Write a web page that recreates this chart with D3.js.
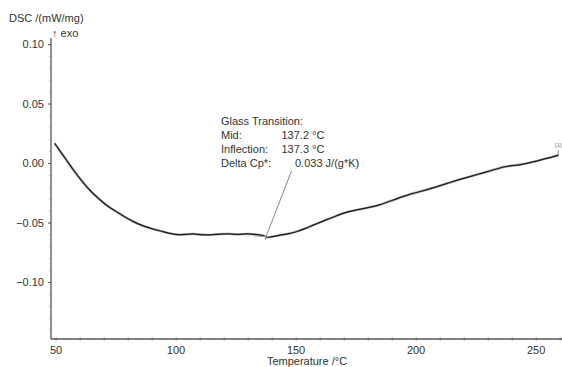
<!DOCTYPE html>
<html>
<head>
<meta charset="utf-8">
<script src="https://cdn.jsdelivr.net/npm/d3@7"></script>
<style>
  body { margin: 0; background: #fff; }
  text { font-family: "Liberation Sans", Arial, sans-serif; fill: #333; }
</style>
</head>
<body>
<svg id="chart" width="562" height="367"></svg>
<script>
// temperature readings (°C) and DSC signal (mW/mg)
const temperature = [49.4, 52, 54.5, 57.2, 61.4, 64.5, 68.3, 71.5, 75.3, 78.5, 82.2, 85, 87.8, 91, 94.7, 98, 101, 104,
  107.2, 110, 112.8, 115.5, 118.3, 122.5, 125.3, 129.5, 133, 136.5, 137.8, 140, 143.3, 147, 150.3, 154, 157.2, 160,
  164.2, 167.5, 171.1, 178, 185, 190, 196.1, 202, 208.6, 214, 219.7, 226, 233.6, 238, 243.3, 250, 255, 259.3];
const dsc = [0.017, 0.0095, 0.0025, -0.0055, -0.0165, -0.0235, -0.0305, -0.036, -0.0405, -0.0448, -0.0489, -0.0515, -0.0535,
  -0.0555, -0.0573, -0.059, -0.0601, -0.0595, -0.0590, -0.0598, -0.0601, -0.0598, -0.0592, -0.0590, -0.0598, -0.0590,
  -0.0595, -0.0605, -0.0625, -0.0615, -0.0601, -0.059, -0.0573, -0.0545, -0.0517, -0.0495, -0.046, -0.0435, -0.0405,
  -0.038, -0.0349, -0.031, -0.0265, -0.0235, -0.0195, -0.016, -0.0124, -0.009, -0.0045, -0.002, -0.0013, 0.002, 0.0045, 0.0071];

const xTicks = [50, 100, 150, 200, 250];
const yTicks = [0.10, 0.05, 0.00, -0.05, -0.10];

const glassLines = [
  ['Glass Transition:', ''],
  ['Mid:', '137.2 °C'],
  ['Inflection:', '137.3 °C'],
  ['Delta Cp*:', '0.033 J/(g*K)']
];
const tgPoint = { t: 137.3, v: -0.0625 };

const svg = d3.select('#chart');

const x = d3.scaleLinear().domain([47.9, 260.8]).range([51, 562]);
const y = d3.scaleLinear().domain([-0.1475, 0.1055]).range([339, 38]);

const axisColor = '#555';

// y axis
const yAxis = svg.append('g').attr('transform', 'translate(51,0)');
yAxis.append('line').attr('y1', y.range()[1]).attr('y2', y.range()[0]).attr('stroke', axisColor).attr('stroke-width', 1.3);
yAxis.selectAll('.minor').data(d3.range(-0.14, 0.105, 0.01))
  .enter().append('line')
  .attr('x1', -1.5).attr('x2', 0)
  .attr('y1', d => y(d)).attr('y2', d => y(d))
  .attr('stroke', '#888');
yAxis.selectAll('.major').data(yTicks)
  .enter().append('line')
  .attr('x1', -3).attr('x2', 0)
  .attr('y1', d => y(d)).attr('y2', d => y(d))
  .attr('stroke', axisColor);
yAxis.selectAll('.lbl').data(yTicks)
  .enter().append('text')
  .attr('x', -7).attr('y', d => y(d)).attr('dy', '0.35em')
  .attr('text-anchor', 'end').style('font-size', '11px')
  .text(d3.format('.2f'));

// x axis
const xAxis = svg.append('g').attr('transform', 'translate(0,339)');
xAxis.append('line').attr('x1', 51).attr('x2', 562).attr('stroke', axisColor).attr('stroke-width', 1.3);
xAxis.selectAll('.minor').data(d3.range(50, 261, 10))
  .enter().append('line')
  .attr('x1', d => x(d)).attr('x2', d => x(d))
  .attr('y1', -1.5).attr('y2', 1.5)
  .attr('stroke', '#666');
xAxis.selectAll('.lbl').data(xTicks)
  .enter().append('text')
  .attr('x', d => x(d)).attr('y', 11).attr('dy', '0.35em')
  .attr('text-anchor', 'middle').style('font-size', '11px')
  .text(d => d);

svg.append('text').attr('x', 307).attr('y', 361).attr('dy', '0.35em')
  .attr('text-anchor', 'middle').style('font-size', '11px').text('Temperature /°C');
svg.append('text').attr('x', 9).attr('y', 18).attr('dy', '0.35em')
  .style('font-size', '11px').text('DSC /(mW/mg)');
svg.append('text').attr('x', 52).attr('y', 33).attr('dy', '0.35em')
  .style('font-size', '11px').text('↑ exo');

// curve
const pts = temperature.map((t, i) => [t, dsc[i]]);
const line = d3.line().x(d => x(d[0])).y(d => y(d[1])).curve(d3.curveBasis);

svg.append('path').datum(pts).attr('d', line)
  .attr('fill', 'none').attr('stroke', '#aaa').attr('stroke-width', 2.4);
svg.append('path').datum(pts).attr('d', line)
  .attr('fill', 'none').attr('stroke', '#1a1a1a').attr('stroke-width', 1.2);

// glass transition marks
const gx = x(tgPoint.t), gy = y(tgPoint.v);
svg.append('line').attr('x1', gx - 12).attr('x2', gx + 4).attr('y1', gy - 2).attr('y2', gy - 1)
  .attr('stroke', '#999').attr('stroke-width', 1);
svg.append('line').attr('x1', gx).attr('x2', gx).attr('y1', gy - 3).attr('y2', gy + 2)
  .attr('stroke', '#999').attr('stroke-width', 1);
svg.append('line').attr('x1', gx).attr('y1', gy).attr('x2', 291.5).attr('y2', 171)
  .attr('stroke', '#888').attr('stroke-width', 1);

const ann = svg.append('g').style('font-size', '11px');
glassLines.forEach((row, i) => {
  ann.append('text').attr('x', 221).attr('y', 121 + i * 14.2).attr('dy', '0.35em').text(row[0]);
  ann.append('text').attr('x', i === 3 ? 295 : 281.5).attr('y', 121 + i * 14.2).attr('dy', '0.35em').text(row[1]);
});

// end-of-curve marker
const ex = x(temperature[temperature.length - 1]), ey = y(dsc[dsc.length - 1]);
svg.append('line').attr('x1', ex).attr('x2', ex).attr('y1', ey).attr('y2', ey - 5).attr('stroke', '#999');
svg.append('text').attr('x', ex).attr('y', ey - 8).attr('text-anchor', 'middle')
  .style('font-size', '6px').style('fill', '#777').text('[1]');
</script>
</body>
</html>
